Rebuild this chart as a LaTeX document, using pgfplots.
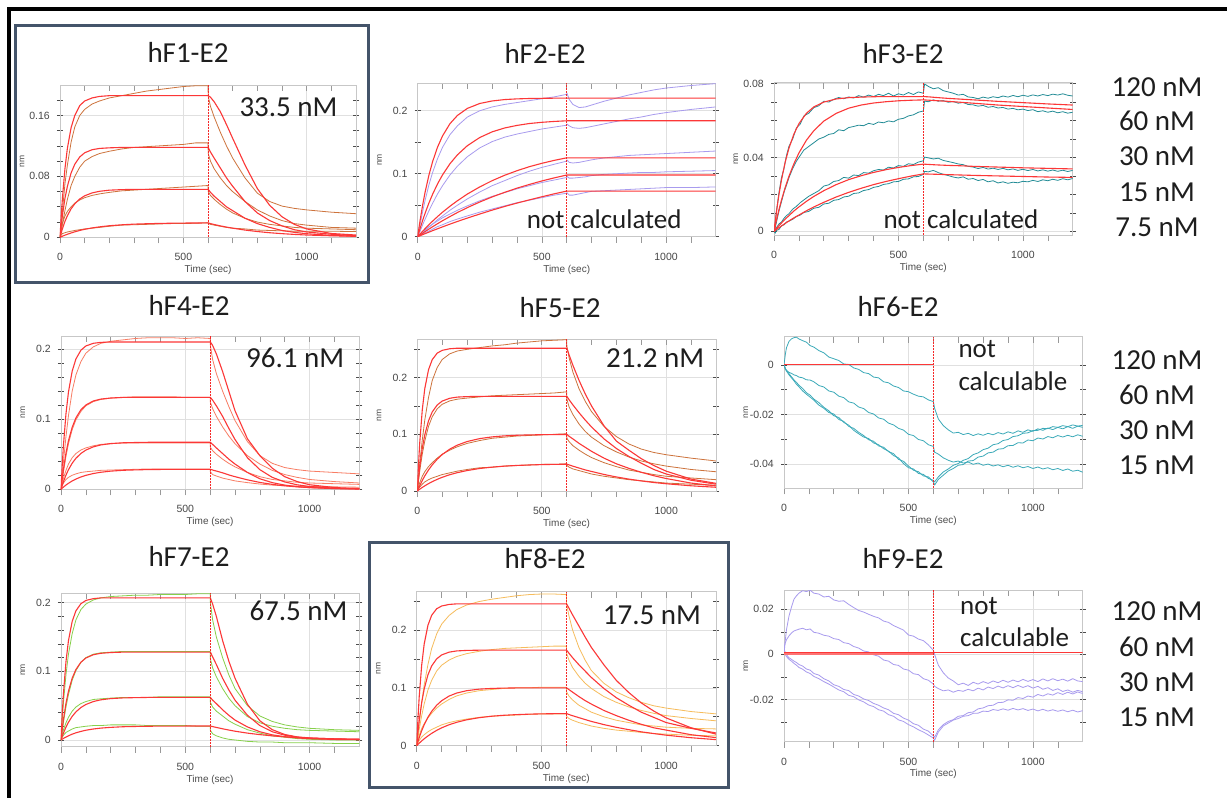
\documentclass[border=0pt]{standalone}
\usepackage{fontspec}
\setmainfont{Carlito}
\newfontfamily\tickfam{Liberation Sans}
\usepackage{pgfplots}
\usepackage{pgfplotstable}
\pgfplotsset{compat=1.18}

\definecolor{fitred}{RGB}{252,55,55}
\definecolor{vred}{RGB}{245,40,40}
\definecolor{brn}{RGB}{205,115,60}
\definecolor{salmon}{RGB}{248,125,100}
\definecolor{lav}{RGB}{168,155,238}
\definecolor{tealA}{RGB}{35,140,150}
\definecolor{tealB}{RGB}{60,170,185}
\definecolor{grn}{RGB}{135,208,75}
\definecolor{orng}{RGB}{246,188,92}
\definecolor{boxcol}{RGB}{68,84,106}
\definecolor{txt}{RGB}{30,30,30}

\newcommand{\bigtxt}{\fontsize{29}{32}\selectfont}
\newcommand{\midtxt}{\fontsize{27}{30}\selectfont}
\newcommand{\tickfont}{\tickfam\fontsize{10.5}{12}\selectfont}
\newcommand{\labfont}{\tickfam\fontsize{10}{12}\selectfont}
\newcommand{\nmfont}{\tickfam\fontsize{8.5}{10}\selectfont}

% panel 1: hF1-E2
\pgfplotstableread{
t d1 d2 d3 d4 f1 f2 f3 f4
0 0 0 0 0 0 0 0 0
5 0.015 0.008 0.010 0.003 0.028 0.0154 0.006 0.0007
10 0.035 0.018 0.018 0.005 0.052 0.029 0.0114 0.0015
20 0.070 0.035 0.028 0.006 0.090 0.051 0.0208 0.0028
30 0.095 0.050 0.034 0.007 0.117 0.067 0.0284 0.004
45 0.125 0.068 0.040 0.008 0.144 0.0845 0.0374 0.0057
60 0.145 0.080 0.045 0.009 0.160 0.096 0.044 0.0072
80 0.160 0.092 0.049 0.010 0.173 0.1055 0.0503 0.009
100 0.168 0.100 0.052 0.011 0.179 0.111 0.0545 0.0105
130 0.175 0.106 0.055 0.012 0.183 0.115 0.0583 0.0123
160 0.179 0.110 0.057 0.013 0.185 0.1167 0.0604 0.0137
200 0.183 0.113 0.059 0.0145 0.186 0.1175 0.0619 0.0152
250 0.186 0.116 0.061 0.016 0.186 0.118 0.0626 0.0164
300 0.189 0.118 0.062 0.0165 0.186 0.118 0.063 0.0173
350 0.192 0.119 0.063 0.017 0.186 0.118 0.063 0.0178
400 0.194 0.120 0.064 0.0175 0.186 0.118 0.063 0.0182
450 0.196 0.121 0.065 0.018 0.186 0.118 0.063 0.0185
500 0.198 0.122 0.066 0.018 0.186 0.118 0.063 0.0187
550 0.199 0.124 0.067 0.0185 0.186 0.118 0.063 0.0188
600 0.199 0.124 0.068 0.019 0.186 0.118 0.063 0.0189
601 0.185 0.110 0.060 0.0185 0.186 0.118 0.063 0.0189
610 0.172 0.100 0.055 0.017 0.184 0.112 0.059 0.018
625 0.158 0.090 0.050 0.016 0.178 0.104 0.054 0.0168
650 0.138 0.078 0.043 0.0145 0.165 0.091 0.047 0.015
675 0.120 0.068 0.037 0.013 0.148 0.078 0.040 0.0134
700 0.104 0.060 0.032 0.012 0.130 0.067 0.035 0.012
750 0.078 0.047 0.025 0.011 0.095 0.047 0.025 0.0095
800 0.058 0.036 0.020 0.0095 0.064 0.032 0.018 0.0076
850 0.047 0.028 0.017 0.009 0.042 0.022 0.013 0.006
900 0.041 0.022 0.015 0.0085 0.027 0.015 0.009 0.0048
950 0.038 0.018 0.013 0.008 0.017 0.010 0.0065 0.0038
1000 0.036 0.016 0.012 0.008 0.011 0.007 0.0047 0.003
1100 0.033 0.013 0.011 0.008 0.005 0.004 0.0025 0.002
1200 0.031 0.012 0.010 0.0075 0.003 0.002 0.0013 0.0013
}\tA

% panel 2: hF2-E2
\pgfplotstableread{
t d1 d2 d3 d4 d5 f1 f2 f3 f4 f5
0 0 0 0 0 0 0 0 0 0 0
5 0.010 0.004 0.001 0.002 0.001 0.0139 0.0068 0.0022 0.0014 0.0008
10 0.020 0.009 0.003 0.004 0.002 0.0268 0.0134 0.0044 0.0028 0.0016
20 0.040 0.019 0.006 0.008 0.004 0.0504 0.0259 0.0087 0.0055 0.0033
30 0.058 0.028 0.010 0.011 0.006 0.0711 0.0375 0.0129 0.0082 0.0049
45 0.082 0.041 0.015 0.016 0.009 0.0974 0.0533 0.019 0.012 0.0072
60 0.102 0.053 0.020 0.020 0.012 0.1192 0.0674 0.0247 0.0158 0.0096
80 0.124 0.068 0.027 0.025 0.016 0.1423 0.0839 0.032 0.0207 0.0126
100 0.142 0.081 0.033 0.030 0.019 0.160 0.0982 0.0389 0.0254 0.0156
130 0.162 0.098 0.042 0.036 0.024 0.1795 0.1159 0.0484 0.032 0.020
160 0.176 0.112 0.050 0.042 0.028 0.1925 0.130 0.0571 0.0384 0.0242
200 0.190 0.127 0.060 0.049 0.033 0.2037 0.1445 0.0677 0.0462 0.0296
250 0.200 0.141 0.071 0.057 0.039 0.2115 0.1575 0.0791 0.0551 0.036
300 0.206 0.151 0.081 0.064 0.044 0.2155 0.1665 0.089 0.0632 0.0422
350 0.210 0.158 0.089 0.070 0.049 0.2177 0.1726 0.0975 0.0704 0.048
400 0.213 0.163 0.097 0.076 0.054 0.2188 0.1767 0.1048 0.0771 0.0534
450 0.216 0.167 0.104 0.081 0.058 0.2194 0.1797 0.1112 0.083 0.0585
500 0.219 0.171 0.110 0.086 0.062 0.2197 0.1816 0.1165 0.0885 0.0634
550 0.222 0.174 0.115 0.090 0.066 0.2199 0.183 0.1212 0.0934 0.0681
600 0.226 0.177 0.120 0.094 0.069 0.220 0.184 0.1252 0.0979 0.0724
601 0.228 0.179 0.122 0.096 0.070 0.220 0.184 0.1252 0.0979 0.0724
610 0.218 0.176 0.118 0.093 0.066 0.220 0.184 0.1252 0.0979 0.0724
625 0.210 0.173 0.117 0.093 0.066 0.220 0.184 0.1252 0.0979 0.0724
650 0.205 0.172 0.118 0.094 0.068 0.220 0.184 0.1252 0.0979 0.0724
675 0.206 0.173 0.120 0.095 0.070 0.220 0.184 0.1252 0.0979 0.0724
700 0.209 0.175 0.122 0.097 0.072 0.220 0.184 0.1252 0.0979 0.0724
750 0.215 0.179 0.125 0.099 0.073 0.220 0.184 0.1252 0.0979 0.0724
800 0.220 0.183 0.127 0.100 0.074 0.220 0.184 0.1252 0.0979 0.0724
850 0.225 0.187 0.129 0.101 0.075 0.220 0.184 0.1252 0.0979 0.0724
900 0.229 0.190 0.130 0.102 0.076 0.220 0.184 0.1252 0.0979 0.0724
950 0.233 0.194 0.131 0.102 0.077 0.220 0.184 0.1252 0.0979 0.0724
1000 0.236 0.197 0.132 0.103 0.078 0.220 0.184 0.1252 0.0979 0.0724
1100 0.240 0.202 0.134 0.104 0.078 0.220 0.184 0.1252 0.0979 0.0724
1200 0.243 0.206 0.136 0.105 0.079 0.220 0.184 0.1252 0.0979 0.0724
}\tB

% panel 3: hF3-E2, fits
\pgfplotstableread{
t f1 f2 f3 f4
0 0 0 0 0
5 0.0056 0.0031 0.0008 0.0005
10 0.0108 0.0062 0.0016 0.001
20 0.020 0.0118 0.0031 0.002
30 0.0278 0.0169 0.0045 0.0029
45 0.0375 0.0238 0.0066 0.0043
60 0.045 0.0298 0.0085 0.0056
80 0.0527 0.0366 0.011 0.0073
100 0.0583 0.0424 0.0132 0.0088
130 0.0639 0.0493 0.0162 0.0111
160 0.0674 0.0545 0.0189 0.0132
200 0.070 0.0597 0.022 0.0157
250 0.0717 0.0639 0.0253 0.0186
300 0.0724 0.0667 0.028 0.0211
350 0.0727 0.0684 0.0301 0.0233
400 0.0729 0.0695 0.0319 0.0253
450 0.073 0.0702 0.0334 0.027
500 0.073 0.0707 0.0346 0.0285
550 0.073 0.071 0.0356 0.0299
600 0.073 0.0712 0.0364 0.0311
625 0.0728 0.071 0.0362 0.031
650 0.0725 0.0708 0.036 0.0309
700 0.072 0.0704 0.0357 0.0307
750 0.0716 0.0699 0.0355 0.0305
800 0.0712 0.0694 0.0352 0.0303
900 0.0704 0.0684 0.0348 0.030
1000 0.0697 0.0676 0.0344 0.0297
1100 0.069 0.0668 0.0341 0.0294
1200 0.0684 0.066 0.0338 0.0292
}\tCf

% panel 3: data
\pgfplotstableread{
t d1 d2 d3 d4
0 0.000 0.000 0.000 0.000
5 0.004 0.002 0.001 -0.001
10 0.011 0.005 0.002 0.0005
20 0.021 0.011 0.004 0.001
30 0.029 0.016 0.005 0.003
40 0.034 0.021 0.007 0.0035
50 0.041 0.025 0.0085 0.005
60 0.046 0.029 0.0095 0.0055
75 0.050 0.034 0.012 0.0065
90 0.056 0.038 0.0135 0.008
105 0.058 0.041 0.0155 0.0088
120 0.0625 0.044 0.017 0.0102
140 0.064 0.046 0.019 0.0108
160 0.067 0.048 0.0205 0.0125
180 0.068 0.050 0.022 0.013
200 0.0705 0.051 0.0245 0.0148
220 0.070 0.0525 0.0252 0.0152
240 0.0715 0.053 0.027 0.0168
260 0.0725 0.055 0.0275 0.0172
280 0.0718 0.0545 0.0292 0.0186
300 0.0728 0.0562 0.0288 0.019
320 0.0722 0.0568 0.0305 0.0205
340 0.0735 0.0575 0.0302 0.0208
360 0.0727 0.0572 0.0318 0.0221
380 0.0738 0.0585 0.0315 0.0226
400 0.073 0.0579 0.0328 0.0238
420 0.0742 0.0592 0.0335 0.0243
440 0.0735 0.0588 0.0332 0.0254
460 0.0748 0.0598 0.0347 0.0258
480 0.0733 0.0593 0.0343 0.0268
500 0.0745 0.0607 0.0356 0.027
520 0.0738 0.0612 0.0352 0.0282
540 0.0752 0.0625 0.0366 0.0284
560 0.0741 0.0631 0.0362 0.0295
580 0.0755 0.0645 0.0375 0.0297
600 0.0748 0.0652 0.0382 0.0308
605 0.0798 0.0705 0.0402 0.0325
620 0.0785 0.0702 0.0398 0.0322
640 0.0772 0.0712 0.0392 0.033
660 0.0778 0.0705 0.0396 0.0318
680 0.0762 0.0708 0.0384 0.0309
700 0.0755 0.0699 0.0378 0.0302
720 0.0748 0.0703 0.0372 0.0294
740 0.0738 0.0694 0.0365 0.0289
760 0.0742 0.0698 0.0361 0.0295
780 0.0728 0.0687 0.0352 0.0282
800 0.0725 0.0685 0.0348 0.0286
820 0.0718 0.0678 0.034 0.0275
840 0.0727 0.0682 0.0346 0.0281
860 0.0721 0.0672 0.0337 0.0268
880 0.0729 0.0676 0.0342 0.0274
900 0.0724 0.0668 0.0335 0.0262
920 0.0733 0.0671 0.0341 0.0268
940 0.0727 0.0662 0.0333 0.026
960 0.0736 0.0666 0.0338 0.0266
980 0.0729 0.0658 0.033 0.0263
1000 0.0737 0.0662 0.0336 0.0271
1020 0.0731 0.0654 0.0329 0.0268
1040 0.0739 0.0659 0.0335 0.0276
1060 0.0733 0.0648 0.0327 0.027
1080 0.0741 0.0653 0.0333 0.0279
1100 0.0735 0.0645 0.0326 0.0274
1120 0.0743 0.0651 0.0332 0.0282
1140 0.0738 0.0642 0.0325 0.0276
1160 0.0745 0.0648 0.0331 0.0285
1180 0.0737 0.064 0.0324 0.0279
1200 0.0733 0.0645 0.033 0.0286
}\tCd

% panel 4: hF4-E2
\pgfplotstableread{
t d1 d2 d3 d4 f1 f2 f3 f4
0 0 0 0 0 0 0 0 0
5 0.020 0.012 0.008 0.005 0.0346 0.0154 0.0058 0.0017
10 0.040 0.025 0.016 0.009 0.0634 0.029 0.011 0.0032
20 0.075 0.047 0.027 0.014 0.1077 0.0515 0.0202 0.0061
30 0.105 0.065 0.036 0.017 0.1386 0.0692 0.0279 0.0086
45 0.140 0.085 0.045 0.020 0.1684 0.0884 0.0372 0.0119
60 0.163 0.099 0.051 0.022 0.1858 0.1018 0.0442 0.0146
80 0.182 0.111 0.056 0.024 0.1982 0.1133 0.0511 0.0176
100 0.194 0.119 0.059 0.025 0.2043 0.1202 0.0559 0.0199
130 0.203 0.125 0.062 0.026 0.2081 0.1259 0.0605 0.0225
160 0.208 0.128 0.064 0.027 0.2094 0.1286 0.0632 0.0243
200 0.211 0.130 0.065 0.0275 0.210 0.1301 0.0652 0.0259
250 0.213 0.131 0.066 0.028 0.210 0.131 0.0663 0.0271
300 0.215 0.132 0.066 0.0285 0.210 0.131 0.0667 0.0277
350 0.216 0.132 0.066 0.029 0.210 0.131 0.067 0.0281
400 0.216 0.132 0.066 0.029 0.210 0.131 0.067 0.0283
450 0.216 0.132 0.066 0.029 0.210 0.131 0.067 0.0284
500 0.215 0.131 0.066 0.029 0.210 0.131 0.067 0.0284
550 0.216 0.131 0.066 0.029 0.210 0.131 0.067 0.0285
600 0.215 0.131 0.066 0.029 0.210 0.131 0.067 0.0285
601 0.205 0.124 0.060 0.025 0.210 0.131 0.067 0.0285
610 0.185 0.115 0.055 0.021 0.205 0.127 0.064 0.0275
625 0.165 0.104 0.050 0.019 0.193 0.119 0.059 0.026
650 0.140 0.089 0.043 0.016 0.168 0.104 0.051 0.0235
675 0.118 0.076 0.037 0.014 0.140 0.087 0.043 0.0205
700 0.098 0.065 0.032 0.012 0.112 0.071 0.036 0.018
750 0.068 0.048 0.024 0.0095 0.072 0.045 0.024 0.0135
800 0.048 0.036 0.018 0.0075 0.048 0.028 0.015 0.0098
850 0.037 0.027 0.014 0.006 0.030 0.017 0.0095 0.007
900 0.031 0.021 0.012 0.005 0.018 0.0105 0.006 0.005
950 0.028 0.017 0.010 0.0045 0.011 0.0064 0.0038 0.0035
1000 0.026 0.014 0.009 0.004 0.0065 0.004 0.0024 0.0025
1100 0.024 0.011 0.008 0.0035 0.0025 0.0016 0.001 0.0012
1200 0.022 0.009 0.007 0.003 0.001 0.0007 0.0004 0.0006
}\tD

% panel 5: hF5-E2
\pgfplotstableread{
t d1 d2 d3 d4 f1 f2 f3 f4
0 0 0 0 0 0 0 0 0
5 0.025 0.018 0.008 0.004 0.0477 0.0232 0.005 0.0017
10 0.050 0.036 0.015 0.007 0.0864 0.0433 0.0098 0.0032
20 0.090 0.065 0.026 0.012 0.1431 0.0753 0.0186 0.0063
30 0.125 0.088 0.034 0.016 0.1805 0.099 0.0266 0.0091
45 0.165 0.114 0.043 0.020 0.2139 0.1238 0.0371 0.013
60 0.195 0.131 0.050 0.023 0.2318 0.1395 0.0461 0.0165
80 0.218 0.145 0.058 0.026 0.2433 0.1518 0.0561 0.0206
100 0.232 0.153 0.065 0.029 0.2482 0.1587 0.0643 0.0242
130 0.242 0.159 0.072 0.032 0.251 0.1636 0.0738 0.0287
160 0.247 0.162 0.078 0.035 0.252 0.1657 0.0808 0.0323
200 0.250 0.164 0.084 0.038 0.252 0.1666 0.0873 0.0361
250 0.253 0.166 0.089 0.041 0.252 0.167 0.0924 0.0397
300 0.256 0.168 0.093 0.042 0.252 0.167 0.0955 0.0421
350 0.258 0.169 0.095 0.044 0.252 0.167 0.0973 0.0439
400 0.261 0.170 0.097 0.045 0.252 0.167 0.0984 0.0451
450 0.263 0.171 0.098 0.046 0.252 0.167 0.099 0.0459
500 0.265 0.172 0.099 0.047 0.252 0.167 0.0994 0.0466
550 0.266 0.173 0.100 0.047 0.252 0.167 0.0996 0.047
600 0.267 0.175 0.101 0.048 0.252 0.167 0.0998 0.0473
601 0.255 0.162 0.093 0.045 0.252 0.167 0.0998 0.0473
610 0.235 0.148 0.087 0.042 0.240 0.161 0.0965 0.046
625 0.210 0.135 0.080 0.039 0.222 0.152 0.092 0.0438
650 0.180 0.118 0.072 0.036 0.195 0.138 0.084 0.0405
675 0.158 0.105 0.065 0.033 0.171 0.125 0.077 0.0372
700 0.140 0.095 0.059 0.030 0.150 0.113 0.070 0.0345
750 0.114 0.080 0.050 0.026 0.115 0.092 0.058 0.0292
800 0.096 0.069 0.043 0.023 0.088 0.075 0.048 0.0248
850 0.083 0.060 0.037 0.020 0.072 0.061 0.040 0.021
900 0.074 0.053 0.033 0.018 0.057 0.049 0.033 0.0178
950 0.068 0.048 0.029 0.016 0.045 0.038 0.027 0.015
1000 0.064 0.044 0.026 0.014 0.035 0.030 0.022 0.0128
1100 0.058 0.038 0.023 0.012 0.021 0.019 0.014 0.0092
1200 0.053 0.034 0.020 0.010 0.0135 0.012 0.009 0.0066
}\tE

% panel 6: hF6-E2
\pgfplotstableread{
t d1 d2 d3 d4
0 0.000 0.000 0.000 0.000
5 0.004 -0.0015 -0.0012 -0.0015
10 0.007 -0.0022 -0.0022 -0.0025
20 0.0095 -0.003 -0.0035 -0.004
30 0.0105 -0.0034 -0.0048 -0.0052
40 0.011 -0.004 -0.006 -0.0064
50 0.0112 -0.0043 -0.007 -0.0078
60 0.0105 -0.0049 -0.0082 -0.0088
75 0.0098 -0.0052 -0.0095 -0.0105
90 0.0092 -0.006 -0.0112 -0.0118
105 0.0078 -0.0061 -0.0122 -0.013
120 0.0072 -0.0068 -0.0138 -0.0142
140 0.0058 -0.0083 -0.0152 -0.0162
160 0.0049 -0.0089 -0.0171 -0.0175
180 0.0032 -0.0105 -0.0185 -0.0192
200 0.0025 -0.011 -0.0205 -0.0198
220 0.0018 -0.0126 -0.0212 -0.022
240 0.0004 -0.0132 -0.0232 -0.0228
260 0.0002 -0.0149 -0.0243 -0.0248
280 -0.0012 -0.0154 -0.0264 -0.0256
300 -0.0018 -0.017 -0.0278 -0.0272
320 -0.0031 -0.0176 -0.0291 -0.0285
340 -0.0035 -0.0192 -0.0297 -0.0302
360 -0.0049 -0.0198 -0.0315 -0.0308
380 -0.0052 -0.0214 -0.0322 -0.0327
400 -0.0068 -0.0219 -0.0338 -0.0332
420 -0.0072 -0.0235 -0.0348 -0.035
440 -0.0085 -0.0242 -0.0366 -0.0358
460 -0.0091 -0.0256 -0.0375 -0.0381
480 -0.0105 -0.0263 -0.0398 -0.0389
500 -0.0108 -0.028 -0.0415 -0.0408
520 -0.0118 -0.0285 -0.042 -0.0425
540 -0.0126 -0.0301 -0.0438 -0.0431
560 -0.0129 -0.0306 -0.0442 -0.0448
580 -0.0141 -0.0322 -0.0458 -0.0452
600 -0.0148 -0.0329 -0.0466 -0.0472
605 -0.0175 -0.0352 -0.0472 -0.0485
620 -0.0218 -0.036 -0.0452 -0.0462
640 -0.0245 -0.0375 -0.0432 -0.0445
660 -0.0262 -0.0385 -0.042 -0.0428
680 -0.0275 -0.0392 -0.0405 -0.0418
700 -0.0272 -0.0388 -0.0398 -0.0405
720 -0.0281 -0.0396 -0.0385 -0.0402
740 -0.0276 -0.0392 -0.0378 -0.0388
760 -0.0285 -0.0401 -0.0362 -0.0386
780 -0.0278 -0.0396 -0.0355 -0.0372
800 -0.0284 -0.0405 -0.0342 -0.0368
820 -0.0276 -0.04 -0.0336 -0.0355
840 -0.0282 -0.0408 -0.0322 -0.0352
860 -0.0273 -0.0403 -0.0318 -0.034
880 -0.0279 -0.0411 -0.0305 -0.0338
900 -0.027 -0.0405 -0.0301 -0.0326
920 -0.0276 -0.0413 -0.0289 -0.0325
940 -0.0266 -0.0407 -0.0286 -0.0314
960 -0.0272 -0.0415 -0.0276 -0.0315
980 -0.0262 -0.041 -0.0274 -0.0303
1000 -0.0268 -0.0418 -0.0265 -0.0306
1020 -0.0258 -0.0412 -0.0264 -0.0295
1040 -0.0264 -0.042 -0.0256 -0.0299
1060 -0.0255 -0.0415 -0.0257 -0.0289
1080 -0.0261 -0.0423 -0.0249 -0.0294
1100 -0.0252 -0.0418 -0.0252 -0.0285
1120 -0.0258 -0.0426 -0.0245 -0.0291
1140 -0.0249 -0.042 -0.0249 -0.0284
1160 -0.0256 -0.0429 -0.0242 -0.029
1180 -0.0247 -0.0425 -0.0247 -0.0282
1200 -0.0252 -0.0433 -0.0244 -0.0288
}\tF

% panel 7: hF7-E2
\pgfplotstableread{
t d1 d2 d3 d4 f1 f2 f3 f4
0 0 0 0 0 0 0 0 0
5 0.030 0.013 0.008 0.004 0.0375 0.0162 0.0054 0.0012
10 0.055 0.026 0.015 0.007 0.0683 0.0303 0.0102 0.0023
20 0.095 0.048 0.025 0.011 0.114 0.0534 0.0187 0.0043
30 0.125 0.066 0.033 0.013 0.1447 0.071 0.0258 0.0061
45 0.155 0.087 0.042 0.016 0.1728 0.090 0.0344 0.0085
60 0.175 0.101 0.048 0.018 0.1882 0.1027 0.0409 0.0104
80 0.190 0.113 0.053 0.019 0.1985 0.1133 0.0473 0.0125
100 0.198 0.120 0.056 0.020 0.2033 0.1194 0.0517 0.0142
130 0.204 0.125 0.059 0.021 0.2059 0.1242 0.056 0.016
160 0.207 0.127 0.060 0.021 0.207 0.1263 0.0585 0.0173
200 0.209 0.128 0.061 0.022 0.207 0.1274 0.0603 0.0184
250 0.210 0.129 0.062 0.022 0.207 0.128 0.0613 0.0193
300 0.211 0.129 0.062 0.022 0.207 0.128 0.0617 0.0197
350 0.211 0.129 0.062 0.021 0.207 0.128 0.062 0.020
400 0.212 0.129 0.063 0.021 0.207 0.128 0.062 0.0202
450 0.212 0.129 0.063 0.021 0.207 0.128 0.062 0.0202
500 0.212 0.129 0.063 0.021 0.207 0.128 0.062 0.0203
550 0.213 0.129 0.063 0.020 0.207 0.128 0.062 0.0203
600 0.213 0.129 0.063 0.020 0.207 0.128 0.062 0.0203
601 0.200 0.118 0.055 0.014 0.207 0.128 0.062 0.0203
610 0.175 0.105 0.048 0.009 0.198 0.121 0.058 0.0195
625 0.150 0.092 0.042 0.006 0.180 0.110 0.053 0.0183
650 0.120 0.075 0.035 0.003 0.145 0.090 0.044 0.0163
675 0.095 0.061 0.028 0.001 0.115 0.073 0.036 0.0145
700 0.075 0.050 0.023 0.000 0.090 0.058 0.029 0.0128
750 0.050 0.034 0.015 -0.002 0.052 0.036 0.019 0.010
800 0.035 0.025 0.010 -0.003 0.028 0.021 0.012 0.0078
850 0.027 0.020 0.006 -0.003 0.015 0.012 0.0075 0.006
900 0.022 0.017 0.004 -0.004 0.008 0.007 0.0047 0.0047
950 0.019 0.015 0.002 -0.004 0.0045 0.004 0.003 0.0037
1000 0.017 0.014 0.001 -0.004 0.003 0.0025 0.0019 0.0028
1100 0.015 0.013 0.000 -0.005 0.0015 0.0012 0.0008 0.0017
1200 0.014 0.012 0.000 -0.005 0.001 0.0007 0.0004 0.001
}\tG

% panel 8: hF8-E2
\pgfplotstableread{
t d1 d2 d3 d4 f1 f2 f3 f4
0 0 0 0 0 0 0 0 0
5 0.020 0.014 0.010 0.005 0.0464 0.0229 0.0072 0.0022
10 0.040 0.028 0.018 0.009 0.084 0.0428 0.0139 0.0043
20 0.075 0.052 0.030 0.015 0.1391 0.0744 0.0259 0.0083
30 0.105 0.072 0.038 0.019 0.1755 0.0978 0.0362 0.0119
45 0.140 0.096 0.048 0.024 0.2079 0.1223 0.0491 0.0169
60 0.168 0.113 0.056 0.028 0.2253 0.1378 0.0593 0.0213
80 0.193 0.129 0.065 0.032 0.2365 0.150 0.0699 0.0265
100 0.210 0.139 0.072 0.036 0.2413 0.1568 0.0777 0.0309
130 0.225 0.148 0.080 0.040 0.244 0.1616 0.0858 0.0362
160 0.235 0.154 0.086 0.043 0.245 0.1637 0.0909 0.0404
200 0.243 0.159 0.091 0.046 0.245 0.1646 0.095 0.0447
250 0.249 0.163 0.095 0.049 0.245 0.165 0.0977 0.0484
300 0.253 0.166 0.097 0.051 0.245 0.165 0.0989 0.0509
350 0.256 0.168 0.099 0.052 0.245 0.165 0.0995 0.0526
400 0.259 0.169 0.100 0.053 0.245 0.165 0.0998 0.0537
450 0.261 0.170 0.100 0.054 0.245 0.165 0.0999 0.0545
500 0.262 0.171 0.101 0.055 0.245 0.165 0.100 0.055
550 0.262 0.172 0.101 0.055 0.245 0.165 0.100 0.0553
600 0.261 0.172 0.101 0.055 0.245 0.165 0.100 0.0555
601 0.245 0.160 0.093 0.051 0.245 0.165 0.100 0.0555
610 0.225 0.148 0.086 0.047 0.238 0.160 0.097 0.054
625 0.200 0.135 0.079 0.044 0.226 0.152 0.0925 0.0518
650 0.170 0.120 0.070 0.040 0.207 0.140 0.085 0.0485
675 0.148 0.108 0.064 0.037 0.188 0.129 0.078 0.0452
700 0.130 0.099 0.058 0.034 0.170 0.118 0.072 0.042
750 0.108 0.085 0.050 0.030 0.140 0.099 0.061 0.0365
800 0.093 0.075 0.044 0.027 0.113 0.083 0.052 0.0318
850 0.083 0.067 0.040 0.025 0.092 0.070 0.044 0.0277
900 0.075 0.061 0.036 0.023 0.074 0.058 0.037 0.024
950 0.069 0.056 0.034 0.021 0.060 0.049 0.031 0.021
1000 0.065 0.052 0.032 0.020 0.048 0.040 0.027 0.0182
1100 0.059 0.047 0.030 0.018 0.031 0.030 0.019 0.0138
1200 0.055 0.043 0.029 0.017 0.020 0.022 0.014 0.0105
}\tH

% panel 9: hF9-E2
\pgfplotstableread{
t d1 d2 d3 d4
0 0.000 0.003 0.002 0.001
5 0.006 0.005 0.001 0.000
10 0.011 0.0065 -0.0002 -0.001
20 0.017 0.0082 -0.0015 -0.0022
30 0.021 0.0095 -0.0022 -0.003
40 0.0245 0.0104 -0.003 -0.004
50 0.026 0.0108 -0.0036 -0.0048
60 0.0272 0.0112 -0.0045 -0.0058
75 0.0283 0.0116 -0.0052 -0.0066
90 0.0279 0.0109 -0.0065 -0.0078
105 0.0285 0.0113 -0.007 -0.0085
120 0.0272 0.0098 -0.0085 -0.0098
140 0.0268 0.0094 -0.0092 -0.0108
160 0.0255 0.0085 -0.0108 -0.0121
180 0.0258 0.0081 -0.0118 -0.0132
200 0.0242 0.007 -0.0135 -0.0145
220 0.0236 0.0066 -0.0142 -0.0158
240 0.0238 0.0052 -0.0156 -0.0166
260 0.0222 0.0048 -0.0161 -0.0182
280 0.0208 0.0035 -0.0178 -0.0188
300 0.0195 0.0028 -0.0185 -0.0202
320 0.0188 0.0015 -0.0198 -0.0211
340 0.0178 0.0011 -0.0205 -0.0225
360 0.0169 -0.0002 -0.0218 -0.0232
380 0.0162 -0.0008 -0.0226 -0.0246
400 0.0148 -0.0025 -0.0238 -0.0252
420 0.0142 -0.003 -0.0246 -0.0268
440 0.0128 -0.0045 -0.0262 -0.0275
460 0.0118 -0.0049 -0.0268 -0.0291
480 0.0108 -0.0065 -0.0283 -0.0298
500 0.0086 -0.007 -0.0292 -0.0312
520 0.0081 -0.0086 -0.0308 -0.0322
540 0.0068 -0.009 -0.0315 -0.0335
560 0.0061 -0.0108 -0.0332 -0.0345
580 0.0042 -0.0115 -0.0341 -0.0358
600 0.0018 -0.0132 -0.0362 -0.0372
605 0.000 -0.0142 -0.0368 -0.0382
620 -0.0048 -0.0152 -0.0335 -0.0345
640 -0.0082 -0.0162 -0.0312 -0.0318
660 -0.0105 -0.0158 -0.0298 -0.0305
680 -0.0118 -0.0168 -0.029 -0.0292
700 -0.0135 -0.016 -0.0275 -0.0285
720 -0.0128 -0.0164 -0.0272 -0.0275
740 -0.0138 -0.0155 -0.0259 -0.0272
760 -0.0124 -0.0162 -0.0256 -0.0262
780 -0.0132 -0.015 -0.0242 -0.0261
800 -0.0121 -0.0158 -0.0238 -0.0252
820 -0.0129 -0.0145 -0.0228 -0.0254
840 -0.0118 -0.0152 -0.0226 -0.0245
860 -0.0126 -0.0141 -0.0214 -0.0249
880 -0.0115 -0.0149 -0.0213 -0.0242
900 -0.0124 -0.0139 -0.0202 -0.0248
920 -0.0114 -0.0148 -0.0204 -0.024
940 -0.0122 -0.0138 -0.0192 -0.0247
960 -0.0111 -0.0147 -0.0196 -0.0241
980 -0.012 -0.0139 -0.0185 -0.0249
1000 -0.0112 -0.015 -0.019 -0.0243
1020 -0.0121 -0.0142 -0.0178 -0.0251
1040 -0.0109 -0.0155 -0.0185 -0.0244
1060 -0.0118 -0.0148 -0.0175 -0.0252
1080 -0.0108 -0.016 -0.0181 -0.0246
1100 -0.0117 -0.0153 -0.017 -0.0253
1120 -0.011 -0.0165 -0.0178 -0.0247
1140 -0.0119 -0.0158 -0.0168 -0.0255
1160 -0.0108 -0.0168 -0.0176 -0.0248
1180 -0.0118 -0.016 -0.0167 -0.0256
1200 -0.0121 -0.0166 -0.0174 -0.025
}\tI

\pgfplotsset{
  sg/.style={
    scale only axis, anchor=south west,
    xmin=0, xmax=1200,
    xtick={0,500,1000},
    minor xtick={100,200,300,400,600,700,800,900,1100},
    axis line style={black!22, line width=0.7pt},
    xmajorgrids, ymajorgrids,
    major grid style={black!12, line width=0.6pt},
    tick align=center,
    major tick length=6pt, minor tick length=6pt,
    ytick style={black!70, line width=0.7pt},
    xtick style={black!40, line width=0.6pt, yshift=-3pt},
    ticklabel style={font=\tickfont, text=black!72},
    xticklabel style={anchor=center, yshift=-17pt},
    yticklabel style={anchor=east, inner sep=0pt, xshift=-7pt},
    scaled y ticks=false,
    yticklabel={\pgfmathprintnumber[fixed, precision=2, assume math mode=true]{\tick}},
    xticklabel={\pgfmathprintnumber[fixed, 1000 sep={}, assume math mode=true]{\tick}},
    xlabel={Time (sec)}, ylabel={nm},
    xlabel style={font=\labfont, text=black!70, at={(axis description cs:0.5,-0.215)}, anchor=center},
    ylabel style={font=\nmfont, text=black!70, at={(axis description cs:-0.128,0.5)}, anchor=center},
  },
  dat/.style={#1, line width=0.8pt, line join=round},
  fit/.style={fitred, line width=1.1pt, line join=round},
}
% dissociation start marker: dotted red line at t = 600 s
\newcommand{\startline}[2]{\addplot[draw=vred, color=vred, line width=0.8pt, dash pattern=on 2pt off 1pt] coordinates {(600,#1) (600,#2)};}

\begin{document}
\begin{tikzpicture}
\path[use as bounding box] (0,0) rectangle (1227pt,-798pt);
\fill[white] (0,0) rectangle (1227pt,-798pt);

% ---- hF1-E2
\begin{axis}[sg, at={(60pt,-237.3pt)}, width=296pt, height=152.3pt,
  ymin=0, ymax=0.2, ytick={0,0.08,0.16},
  minor ytick={0.02,0.04,0.06,0.1,0.12,0.14,0.18}]
\foreach \c in {d1,d2,d3,d4} {\addplot[dat=brn] table[x=t,y=\c]{\tA};}
\foreach \c in {f1,f2,f3,f4} {\addplot[fit] table[x=t,y=\c]{\tA};}
\startline{0}{0.2}
\end{axis}

% ---- hF2-E2
\begin{axis}[sg, at={(417.7pt,-236.7pt)}, width=298pt, height=153.7pt,
  ymin=0, ymax=0.244, ytick={0,0.1,0.2}, minor ytick={0.05,0.15}]
\foreach \c in {d1,d2,d3,d4,d5} {\addplot[dat=lav] table[x=t,y=\c]{\tB};}
\foreach \c in {f1,f2,f3,f4,f5} {\addplot[fit] table[x=t,y=\c]{\tB};}
\startline{0}{0.244}
\end{axis}

% ---- hF3-E2
\begin{axis}[sg, at={(774pt,-235pt)}, width=298.7pt, height=152.3pt,
  ymin=-0.002, ymax=0.0805, ytick={0,0.04,0.08},
  minor ytick={0.01,0.02,0.03,0.05,0.06,0.07}]
\foreach \c in {d1,d2,d3,d4} {\addplot[dat=tealA] table[x=t,y=\c]{\tCd};}
\foreach \c in {f1,f2,f3,f4} {\addplot[fit] table[x=t,y=\c]{\tCf};}
\startline{-0.002}{0.0805}
\end{axis}

% ---- hF4-E2
\begin{axis}[sg, at={(61pt,-489.3pt)}, width=298.3pt, height=153.3pt,
  ymin=0, ymax=0.2185, ytick={0,0.1,0.2},
  minor ytick={0.02,0.04,0.06,0.08,0.12,0.14,0.16,0.18}]
\foreach \c in {d1,d2,d3,d4} {\addplot[dat=salmon] table[x=t,y=\c]{\tD};}
\foreach \c in {f1,f2,f3,f4} {\addplot[fit] table[x=t,y=\c]{\tD};}
\startline{0}{0.2185}
\end{axis}

% ---- hF5-E2
\begin{axis}[sg, at={(417.3pt,-491pt)}, width=298.7pt, height=151.7pt,
  ymin=0, ymax=0.2677, ytick={0,0.1,0.2}, minor ytick={0.05,0.15,0.25}]
\foreach \c in {d1,d2,d3,d4} {\addplot[dat=brn] table[x=t,y=\c]{\tE};}
\foreach \c in {f1,f2,f3,f4} {\addplot[fit] table[x=t,y=\c]{\tE};}
\startline{0}{0.2677}
\end{axis}

% ---- hF6-E2
\begin{axis}[sg, at={(784pt,-488.3pt)}, width=298.7pt, height=151.6pt,
  ymin=-0.0498, ymax=0.0114, ytick={-0.04,-0.02,0}, minor ytick={-0.03,-0.01}]
\foreach \c in {d1,d2,d3,d4} {\addplot[dat=tealB] table[x=t,y=\c]{\tF};}
\addplot[fit] coordinates {(0,0) (600,0)};
\startline{-0.0498}{0.0114}
\end{axis}

% ---- hF7-E2
\begin{axis}[sg, at={(61pt,-746.7pt)}, width=298.3pt, height=153.4pt,
  ymin=-0.0098, ymax=0.2137, ytick={0,0.1,0.2},
  minor ytick={0.02,0.04,0.06,0.08,0.12,0.14,0.16,0.18}]
\foreach \c in {d1,d2,d3,d4} {\addplot[dat=grn] table[x=t,y=\c]{\tG};}
\foreach \c in {f1,f2,f3,f4} {\addplot[fit] table[x=t,y=\c]{\tG};}
\startline{-0.0098}{0.2137}
\end{axis}

% ---- hF8-E2
\begin{axis}[sg, at={(416.7pt,-745.7pt)}, width=299.3pt, height=154pt,
  ymin=0, ymax=0.266, ytick={0,0.1,0.2}, minor ytick={0.05,0.15,0.25}]
\foreach \c in {d1,d2,d3,d4} {\addplot[dat=orng] table[x=t,y=\c]{\tH};}
\foreach \c in {f1,f2,f3,f4} {\addplot[fit] table[x=t,y=\c]{\tH};}
\startline{0}{0.266}
\end{axis}

% ---- hF9-E2
\begin{axis}[sg, at={(784pt,-741.7pt)}, width=298.7pt, height=151.7pt,
  ymin=-0.0388, ymax=0.0286, ytick={-0.02,0,0.02}, minor ytick={-0.03,-0.01,0.01}]
\foreach \c in {d1,d2,d3,d4} {\addplot[dat=lav] table[x=t,y=\c]{\tI};}
\addplot[fitred!70, line width=2pt] coordinates {(0,0.0001) (600,0.0001)};
\addplot[fit] coordinates {(0,0.0007) (1200,0.0007)};
\startline{-0.0388}{0.0286}
\end{axis}

% frame and highlight boxes
\draw[black, line width=3.5pt] (9pt,-800pt) -- (9pt,-9pt) -- (1230pt,-9pt);
\draw[boxcol, line width=3pt] (15pt,-25pt) rectangle (368pt,-282pt);
\draw[boxcol, line width=3pt] (369pt,-542pt) rectangle (728pt,-787pt);

% titles
\begin{scope}[every node/.style={text=txt, inner sep=0pt, font=\bigtxt}]
\node[anchor=base] at (188pt,-62.7pt) {hF1-E2};
\node[anchor=base] at (545pt,-63pt) {hF2-E2};
\node[anchor=base] at (903pt,-63pt) {hF3-E2};
\node[anchor=base] at (189pt,-315pt) {hF4-E2};
\node[anchor=base] at (560pt,-317pt) {hF5-E2};
\node[anchor=base] at (898pt,-316.7pt) {hF6-E2};
\node[anchor=base] at (189pt,-566.7pt) {hF7-E2};
\node[anchor=base] at (545pt,-568pt) {hF8-E2};
\node[anchor=base] at (903pt,-568pt) {hF9-E2};
% KD values
\node[anchor=base west] at (239.3pt,-116.7pt) {33.5 nM};
\node[anchor=base west] at (246pt,-367.3pt) {96.1 nM};
\node[anchor=base west] at (606pt,-367.3pt) {21.2 nM};
\node[anchor=base west] at (249.3pt,-620pt) {67.5 nM};
\node[anchor=base west] at (602.7pt,-624pt) {17.5 nM};
% concentrations
\node[anchor=base] at (1157pt,-96pt) {120 nM};
\node[anchor=base] at (1157pt,-130.7pt) {60 nM};
\node[anchor=base] at (1157pt,-165.7pt) {30 nM};
\node[anchor=base] at (1157pt,-201.7pt) {15 nM};
\node[anchor=base] at (1157pt,-236pt) {7.5 nM};
\node[anchor=base] at (1157pt,-369.3pt) {120 nM};
\node[anchor=base] at (1157pt,-404pt) {60 nM};
\node[anchor=base] at (1157pt,-439pt) {30 nM};
\node[anchor=base] at (1157pt,-474.3pt) {15 nM};
\node[anchor=base] at (1157pt,-620.7pt) {120 nM};
\node[anchor=base] at (1157pt,-656.7pt) {60 nM};
\node[anchor=base] at (1157pt,-691.7pt) {30 nM};
\node[anchor=base] at (1157pt,-726.7pt) {15 nM};
\end{scope}
\begin{scope}[every node/.style={text=txt, inner sep=0pt, font=\midtxt}]
\node[anchor=base west] at (526.7pt,-228.3pt) {not calculated};
\node[anchor=base west] at (883.3pt,-228.3pt) {not calculated};
\node[anchor=base west] at (958.3pt,-357.3pt) {not};
\node[anchor=base west] at (958.3pt,-390pt) {calculable};
\node[anchor=base west] at (960pt,-614pt) {not};
\node[anchor=base west] at (960pt,-646pt) {calculable};
\end{scope}
\end{tikzpicture}
\end{document}
